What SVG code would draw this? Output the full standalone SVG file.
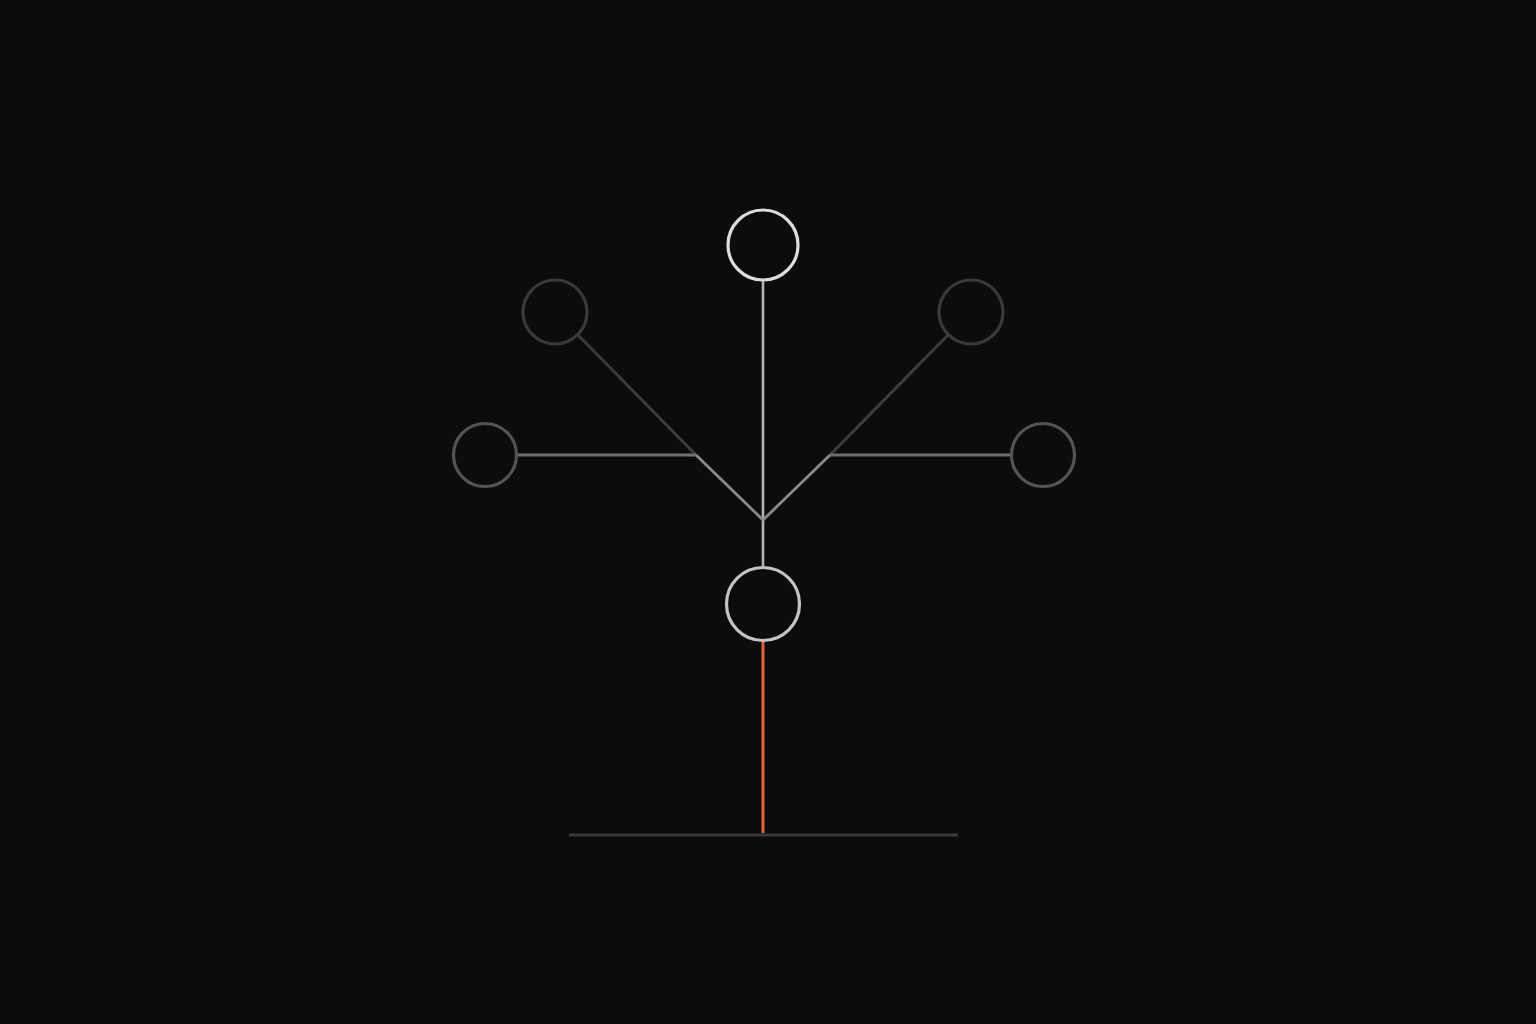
<svg xmlns="http://www.w3.org/2000/svg" width="1536" height="1024" viewBox="0 0 1536 1024">
<style>
.n{fill:none}
.top{stroke:#dcdcdc;stroke-width:3.2}
.mid{stroke:#c4c4c4;stroke-width:3.2}
.dim{stroke:#3a3a3c;stroke-width:3.2}
.side{stroke:#545456;stroke-width:3.2}
.c{fill:none;stroke-linecap:butt}
</style>
<rect width="1536" height="1024" fill="#0b0c0e"/>
<g id="connectors">
<line class="c" x1="763" y1="280" x2="763" y2="568" stroke="#b4b4b4" stroke-width="2.6"/>
<line class="c" x1="578" y1="335" x2="696" y2="455" stroke="#3c3c3e" stroke-width="3"/>
<line class="c" x1="696" y1="455" x2="763" y2="520" stroke="#8a8a8a" stroke-width="2.8"/>
<line class="c" x1="948" y1="335" x2="830" y2="455" stroke="#3c3c3e" stroke-width="3"/>
<line class="c" x1="830" y1="455" x2="763" y2="520" stroke="#8a8a8a" stroke-width="2.8"/>
<line class="c" x1="517" y1="455" x2="696" y2="455" stroke="#6e6e6e" stroke-width="2.8"/>
<line class="c" x1="830" y1="455" x2="1012" y2="455" stroke="#6e6e6e" stroke-width="2.8"/>
<line class="c" x1="763" y1="641" x2="763" y2="833" stroke="#e4633c" stroke-width="3"/>
<line class="c" x1="569" y1="835" x2="958" y2="835" stroke="#3a3a3c" stroke-width="3"/>
</g>
<g id="node-top"><circle class="n top" cx="763" cy="245" r="35"/></g>
<g id="node-upper-left"><circle class="n dim" cx="555" cy="312" r="32"/></g>
<g id="node-upper-right"><circle class="n dim" cx="971" cy="312" r="32"/></g>
<g id="node-left"><circle class="n side" cx="485" cy="455" r="31.5"/></g>
<g id="node-right"><circle class="n side" cx="1043" cy="455" r="31.5"/></g>
<g id="node-bottom"><circle class="n mid" cx="763" cy="604" r="36.5"/></g>
</svg>
